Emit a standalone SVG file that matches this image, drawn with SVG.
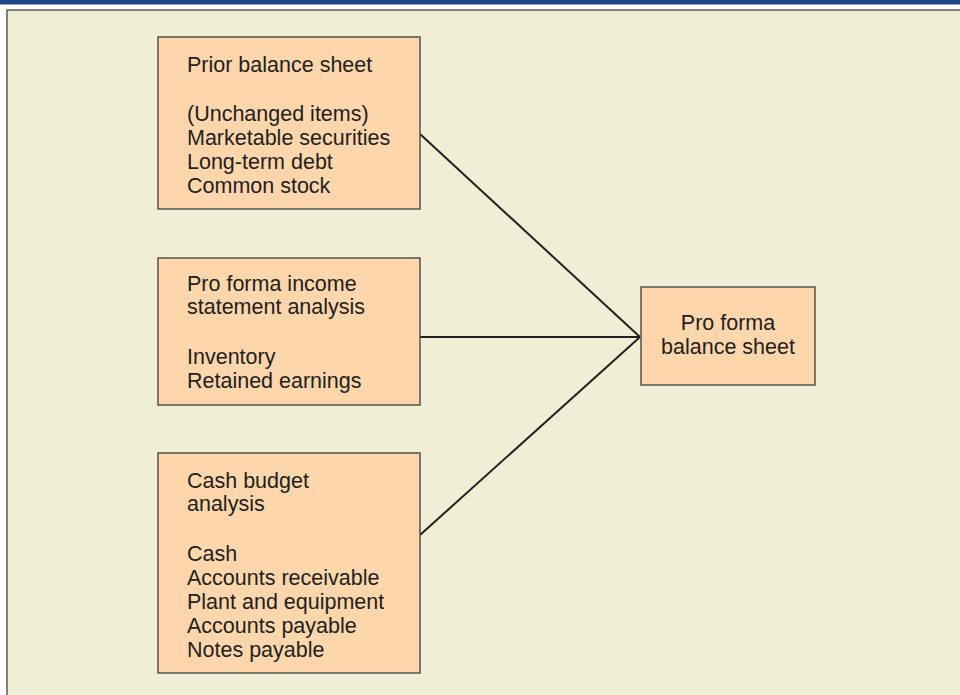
<svg xmlns="http://www.w3.org/2000/svg" width="960" height="695" viewBox="0 0 960 695">
<style>
.box{fill:#fdd6ab;stroke:#4a4744;stroke-width:1.4}
.t{font-family:"Liberation Sans",Arial,sans-serif;font-size:21.5px;fill:#231f20}
.c{text-anchor:middle}
.ln{stroke:#231f20;stroke-width:2;fill:none}
</style>
<rect x="0" y="0" width="960" height="695" fill="#ffffff"/>
<rect x="0" y="0" width="960" height="4.5" fill="#1f4687"/>
<rect x="7" y="10" width="960" height="700" fill="#f1eed6" stroke="#66625d" stroke-width="1.6"/>
<g id="connectors">
<line class="ln" x1="420" y1="134" x2="640" y2="337"/>
<line class="ln" x1="420" y1="337" x2="640" y2="337"/>
<line class="ln" x1="420" y1="535" x2="640" y2="337"/>
</g>
<g id="node-prior">
<rect class="box" x="158" y="37" width="262" height="172"/>
<text class="t" x="187" y="72">Prior balance sheet</text>
<text class="t" x="187" y="121">(Unchanged items)</text>
<text class="t" x="187" y="145">Marketable securities</text>
<text class="t" x="187" y="169">Long-term debt</text>
<text class="t" x="187" y="193">Common stock</text>
</g>
<g id="node-income">
<rect class="box" x="158" y="258" width="262" height="147"/>
<text class="t" x="187" y="291">Pro forma income</text>
<text class="t" x="187" y="314">statement analysis</text>
<text class="t" x="187" y="364">Inventory</text>
<text class="t" x="187" y="388">Retained earnings</text>
</g>
<g id="node-cash">
<rect class="box" x="158" y="453" width="262" height="220"/>
<text class="t" x="187" y="488">Cash budget</text>
<text class="t" x="187" y="511">analysis</text>
<text class="t" x="187" y="561">Cash</text>
<text class="t" x="187" y="585">Accounts receivable</text>
<text class="t" x="187" y="609">Plant and equipment</text>
<text class="t" x="187" y="633">Accounts payable</text>
<text class="t" x="187" y="657">Notes payable</text>
</g>
<g id="node-proforma">
<rect class="box" x="641" y="287" width="174" height="98"/>
<text class="t c" x="728" y="330">Pro forma</text>
<text class="t c" x="728" y="354">balance sheet</text>
</g>
</svg>
